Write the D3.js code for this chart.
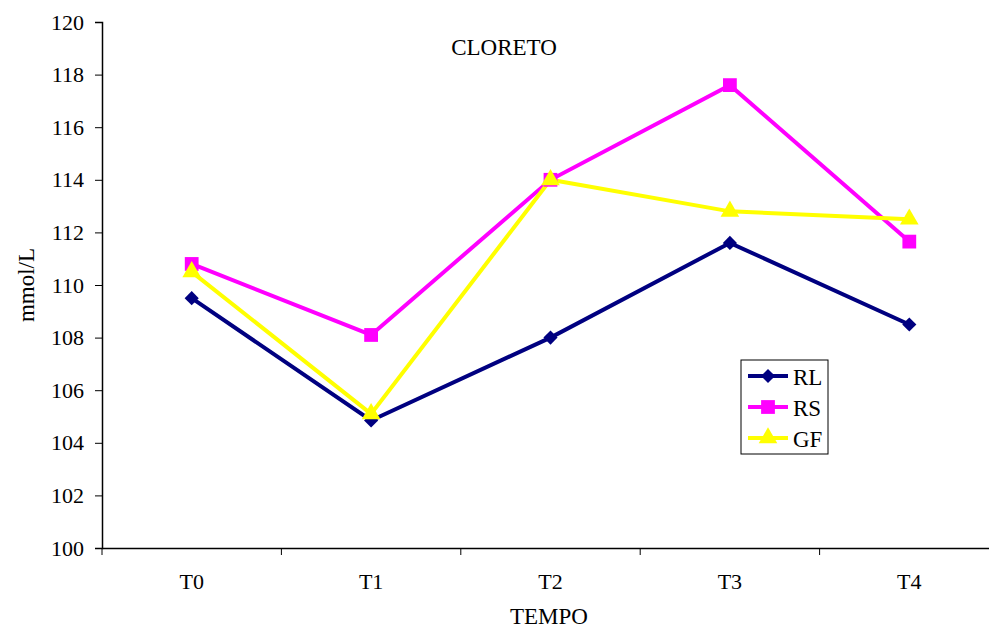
<!DOCTYPE html>
<html lang="pt">
<head>
  <meta charset="UTF-8">
  <title>CLORETO</title>
  <style>
    body { margin: 0; background: #fff; }
    svg { display: block; }
    svg text { font-family: "Liberation Serif", "Times New Roman", "DejaVu Serif", serif; fill: #000; }
  </style>
</head>
<body>
  <svg width="989" height="629"></svg>

  <script src="https://d3js.org/d3.v7.min.js"></script>
  <script>
    // dados
    const categories = ["T0", "T1", "T2", "T3", "T4"];
    const seriesNames = ["RL", "RS", "GF"];
    const rl = [109.5, 104.85, 108.0, 111.6, 108.5];
    const rs = [110.8, 108.1, 114.0, 117.6, 111.65];
    const gf = [110.5, 105.1, 114.0, 112.8, 112.5];
    const yTicks = [100, 102, 104, 106, 108, 110, 112, 114, 116, 118, 120];

    const colors = { RL: "#000080", RS: "#FF00FF", GF: "#FFFF00" };
    // o losango e um quadrado girado 45 graus
    const symbols = { RL: d3.symbolSquare, RS: d3.symbolSquare, GF: d3.symbolTriangle };
    const symSize = { RL: 100, RS: 190, GF: 150 };
    const symRot = { RL: 45, RS: 0, GF: 0 };

    const series = [
      { name: "RL", values: rl },
      { name: "RS", values: rs },
      { name: "GF", values: gf }
    ];

    const svg = d3.select("svg");
    const mLeft = 102, mRight = 999, mTop = 22, mBottom = 548;

    const x = d3.scaleBand().domain(categories).range([mLeft, mRight]);
    const y = d3.scaleLinear().domain([100, 120]).range([mBottom, mTop]);

    // eixo Y
    const yAxis = svg.append("g")
      .attr("transform", `translate(${mLeft},0)`)
      .call(d3.axisLeft(y).tickValues(yTicks).tickSize(7).tickPadding(11));
    yAxis.attr("font-family", null);
    yAxis.selectAll("text").style("font-size", "22px");

    // eixo X
    const xAxis = svg.append("g")
      .attr("transform", `translate(0,${mBottom})`)
      .call(d3.axisBottom(x).tickSize(0).tickPadding(25));
    xAxis.attr("font-family", null);
    xAxis.selectAll("text").style("font-size", "22px");
    xAxis.selectAll(".tick-mark")
      .data(d3.range(categories.length + 1))
      .join("line")
      .attr("class", "tick-mark")
      .attr("x1", i => mLeft + i * x.step())
      .attr("x2", i => mLeft + i * x.step())
      .attr("y1", 0).attr("y2", 7)
      .attr("stroke", "#000");

    svg.selectAll(".domain").attr("stroke", "#000").attr("stroke-width", 1.5);
    svg.selectAll(".tick line").attr("stroke", "#000");

    // linhas
    const line = d3.line()
      .x((d, i) => x(categories[i]) + x.bandwidth() / 2)
      .y(d => y(d));

    series.forEach(s => {
      svg.append("path")
        .datum(s.values)
        .attr("fill", "none")
        .attr("stroke", colors[s.name])
        .attr("stroke-width", 4)
        .attr("d", line);
    });

    series.forEach(s => {
      svg.append("g").selectAll("path")
        .data(s.values)
        .join("path")
        .attr("transform", (d, i) =>
          `translate(${x(categories[i]) + x.bandwidth() / 2},${y(d)}) rotate(${symRot[s.name]})`)
        .attr("d", d3.symbol().type(symbols[s.name]).size(symSize[s.name]))
        .attr("fill", colors[s.name]);
    });

    // titulo
    svg.append("text")
      .attr("x", 504).attr("y", 55)
      .attr("text-anchor", "middle")
      .style("font-size", "23px")
      .text("CLORETO");

    svg.append("text")
      .attr("x", 549).attr("y", 624)
      .attr("text-anchor", "middle")
      .style("font-size", "23px")
      .text("TEMPO");

    svg.append("text")
      .attr("transform", "translate(34,285) rotate(-90)")
      .attr("text-anchor", "middle")
      .style("font-size", "23px")
      .text("mmol/L");

    // legenda
    const lg = svg.append("g");
    lg.append("rect")
      .attr("x", 741).attr("y", 360)
      .attr("width", 87).attr("height", 94)
      .attr("fill", "#fff").attr("stroke", "#000");

    seriesNames.forEach((n, i) => {
      const yy = 376 + i * 31;
      lg.append("line")
        .attr("x1", 748).attr("x2", 788)
        .attr("y1", yy).attr("y2", yy)
        .attr("stroke", colors[n]).attr("stroke-width", 4);
      lg.append("path")
        .attr("transform", `translate(768,${yy}) rotate(${symRot[n]})`)
        .attr("d", d3.symbol().type(symbols[n]).size(symSize[n]))
        .attr("fill", colors[n]);
      lg.append("text")
        .attr("x", 793).attr("y", yy + 9)
        .style("font-size", "23px")
        .text(n);
    });
  </script>
</body>
</html>
